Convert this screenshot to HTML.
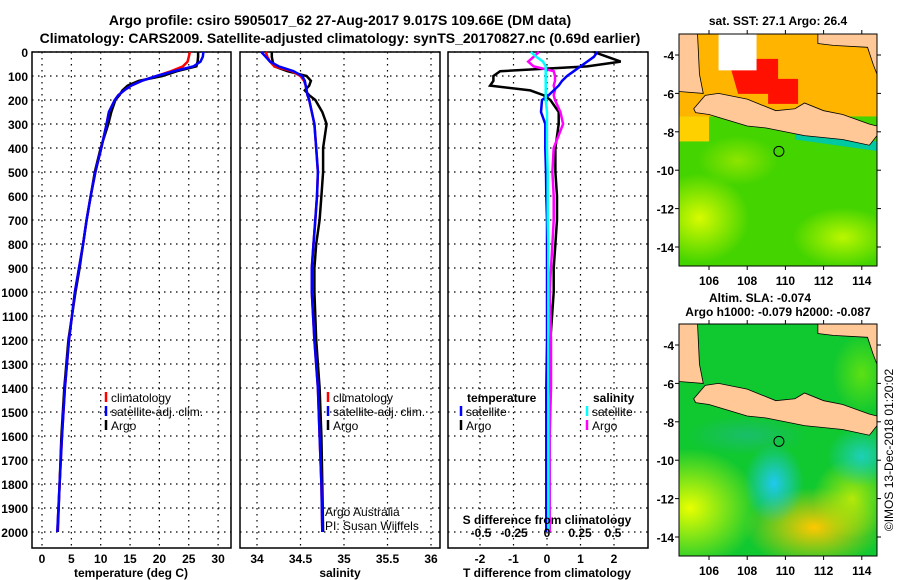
<!DOCTYPE html>
<html><head><meta charset="utf-8"><style>
body{margin:0;background:#fff;width:900px;height:580px;overflow:hidden}
svg{display:block;font-family:"Liberation Sans",sans-serif;font-weight:bold}
</style></head><body>
<svg id="c" width="900" height="580">
<text x="340" y="25" font-size="14" text-anchor="middle">Argo profile: csiro 5905017_62 27-Aug-2017 9.017S 109.66E (DM data)</text>
<text x="340" y="43" font-size="14" text-anchor="middle">Climatology: CARS2009. Satellite-adjusted climatology: synTS_20170827.nc (0.69d earlier)</text>
<g id="maps"></g>
<g id="plots"></g>
<text transform="translate(893,450) rotate(-90)" font-size="12" font-weight="normal" text-anchor="middle">©IMOS 13-Dec-2018 01:20:02</text>
</svg>
<script>
const depths=[0,20,40,60,80,100,120,140,160,180,200,250,300,400,500,600,700,800,900,1000,1200,1400,1600,1800,2000];
const tArgo=[26.6,26.6,26.5,26.3,23,20.5,16.5,14.6,13.7,13.2,12.5,11.8,11.3,10,9.0,8.3,7.6,7.0,6.4,5.7,4.5,3.8,3.3,3.0,2.7];
const tClim=[25.2,25.0,24.8,24,22,19.5,17,15.2,14,13,12.4,11.4,11.0,10.1,9.1,8.3,7.6,7.0,6.3,5.6,4.6,3.9,3.4,3.0,2.6];
const tSat=[27.5,27.4,27,25.8,22.5,19.5,17,15.2,14,13,12.4,11.4,11.0,10.1,9.1,8.3,7.6,7.0,6.3,5.6,4.6,3.9,3.4,3.0,2.6];
const sArgo=[34.17,34.17,34.18,34.2,34.35,34.57,34.62,34.6,34.55,34.6,34.67,34.75,34.8,34.76,34.76,34.74,34.72,34.68,34.66,34.66,34.68,34.72,34.74,34.75,34.76];
const sClim=[34.1,34.12,34.15,34.2,34.4,34.5,34.54,34.56,34.57,34.58,34.6,34.63,34.66,34.68,34.7,34.69,34.67,34.65,34.63,34.63,34.66,34.7,34.72,34.74,34.75];
const sSat=[34.05,34.1,34.15,34.25,34.42,34.52,34.55,34.56,34.57,34.58,34.6,34.63,34.66,34.68,34.7,34.69,34.67,34.65,34.63,34.63,34.66,34.7,34.72,34.74,34.75];
const dTArgo=[1.4,1.8,2.2,1.2,-1.4,-1.6,-1.6,-1.7,-0.5,-0.1,0.1,0.35,0.35,0.25,0.25,0.3,0.3,0.25,0.2,0.2,0.1,0.1,0.05,0.05,0.05];
const dTSat=[1.5,1.4,1.2,1.0,0.8,0.6,0.45,0.35,0.2,0.05,-0.15,-0.18,-0.05,-0.05,-0.03,-0.02,0,0,0,0,0,-0.02,-0.02,-0.02,-0.02];
const dSArgo=[-0.06,-0.1,-0.14,-0.1,0.05,0.06,0.06,0.05,0.06,0.05,0.06,0.1,0.12,0.05,0.04,0.05,0.05,0.04,0.03,0.02,0.03,0.03,0.02,0.02,0.02];
const dSSat=[-0.12,-0.08,-0.03,-0.01,-0.01,-0.01,-0.01,-0.01,-0.01,-0.01,-0.01,0,0,0,0.005,0.005,0.005,0.01,0.01,0.01,0.01,0.01,0.01,0.01,0.01];
const depthTicks=[0,100,200,300,400,500,600,700,800,900,1000,1100,1200,1300,1400,1500,1600,1700,1800,1900,2000];
const tTicks=[0,5,10,15,20,25,30];
const sTicks=[34,34.5,35,35.5,36];
const dTTicks=[-2,-1,0,1,2];
const dSTicks=[-0.5,-0.25,0,0.25,0.5];
const dSTickLabels=["-0.5","-0.25","0","0.25","0.5"];
const lonTicks=[106,108,110,112,114];
const latTicks=[-4,-6,-8,-10,-12,-14];

const NS='http://www.w3.org/2000/svg';
function mk(tag,attrs,parent,txt){const e=document.createElementNS(NS,tag);for(const k in attrs)e.setAttribute(k,attrs[k]);if(txt!==undefined)e.textContent=txt;parent.appendChild(e);return e;}
const plots=document.getElementById('plots');
const TOP=52,BOT=548;
const yD=d=>TOP+d*0.24;
const xT=t=>42+t*5.87;
const xS=s=>257+(s-34)*87;
const xDT=t=>547+t*33.5;
const xDS=s=>547+s*134;

function panel(x0,x1,name,gridX){
  const g=mk('g',{},plots);
  
  
  depthTicks.forEach(d=>{const l=mk('line',{x1:x0,x2:x1,y1:yD(d),y2:yD(d),stroke:'#000','stroke-width':1.2,'stroke-dasharray':'1.5 4.5'},g);
    });
  gridX.forEach(x=>{const l=mk('line',{x1:x,x2:x,y1:TOP,y2:BOT,stroke:'#000','stroke-width':1.2,'stroke-dasharray':'1.5 4.5'},g);
    });
  const r=mk('rect',{x:x0,y:TOP,width:x1-x0,height:BOT-TOP,fill:'none',stroke:'#000','stroke-width':1.5},g);
  
  return g;
}
function line(g,xs,xf,color,name,w){
  const pts=depths.map((d,i)=>xf(xs[i]).toFixed(1)+','+yD(d).toFixed(1)).join(' ');
  const p=mk('polyline',{points:pts,fill:'none',stroke:color,'stroke-width':w||2.5},g);
  
}
function txt(g,x,y,s,name,opts){const t=mk('text',Object.assign({x:x,y:y,'font-size':12},opts||{}),g,s);return t;}
function legend(g,x,y,items,name){
  items.forEach((it,i)=>{
    const yy=y+i*14;
    const l=mk('line',{x1:x,x2:x,y1:yy-10,y2:yy,stroke:it[1],'stroke-width':2.5},g);
    
    txt(g,x+5,yy,it[0],name+'-label',{'font-weight':'normal'});
  });
}

// depth tick labels
depthTicks.forEach(d=>txt(plots,28,yD(d)+5,String(d),'depth-tick-label',{'text-anchor':'end'}));

// panel 1 temperature
const g1=panel(32,231,'temperature-panel',tTicks.map(xT));
line(g1,tArgo,xT,'#000','argo-temperature-line');
line(g1,tClim,xT,'#f00','climatology-temperature-line');
line(g1,tSat,xT,'#00f','satellite-temperature-line');
tTicks.forEach(t=>txt(g1,xT(t),563,String(t),'temperature-tick-label',{'text-anchor':'middle'}));
txt(g1,131,577,'temperature (deg C)','temperature-axis-title',{'text-anchor':'middle'});
legend(g1,106,402,[['climatology','#f00'],['satellite-adj. clim.','#00f'],['Argo','#000']],'temperature-legend');

// panel 2 salinity
const g2=panel(240,440,'salinity-panel',sTicks.map(xS));
line(g2,sArgo,xS,'#000','argo-salinity-line');
line(g2,sClim,xS,'#f00','climatology-salinity-line');
line(g2,sSat,xS,'#00f','satellite-salinity-line');
sTicks.forEach(s=>txt(g2,xS(s),563,String(s),'salinity-tick-label',{'text-anchor':'middle'}));
txt(g2,340,577,'salinity','salinity-axis-title',{'text-anchor':'middle'});
legend(g2,328,402,[['climatology','#f00'],['satellite-adj. clim.','#00f'],['Argo','#000']],'salinity-legend');
txt(g2,325,516,'Argo Australia','argo-australia-credit',{'font-weight':'normal'});
txt(g2,325,530,'PI: Susan Wijffels','pi-credit',{'font-weight':'normal'});

// panel 3 differences
const g3=panel(448,648,'difference-panel',dTTicks.map(xDT));
line(g3,dTArgo,xDT,'#000','argo-t-difference-line');
line(g3,dSArgo,xDS,'#f0f','argo-s-difference-line');
line(g3,dTSat,xDT,'#00f','satellite-t-difference-line');
line(g3,dSSat,xDS,'#0ff','satellite-s-difference-line');
dTTicks.forEach(t=>txt(g3,xDT(t),563,String(t),'t-difference-tick-label',{'text-anchor':'middle'}));
txt(g3,547,577,'T difference from climatology','t-difference-axis-title',{'text-anchor':'middle'});
dSTicks.forEach((s,i)=>txt(g3,547+(i-2)*33,537,dSTickLabels[i],'s-difference-tick-label',{'text-anchor':'middle'}));
txt(g3,547,524,'S difference from climatology','s-difference-axis-title',{'text-anchor':'middle'});
txt(g3,467,402,'temperature','difference-legend-temperature-heading');
txt(g3,593,402,'salinity','difference-legend-salinity-heading');
legend(g3,461,416,[['satellite','#00f'],['Argo','#000']],'difference-legend-temperature');
legend(g3,587,416,[['satellite','#0ff'],['Argo','#f0f']],'difference-legend-salinity');

// maps
const maps=document.getElementById('maps');
function mapPanel(top,name,kind){
  const L=679,R=877,T=top,B=top+232;
  const lx=l=>709+(l-106)*19.1;
  const ly=la=>top+21+(-4-la)*19.2;
  const g=mk('g',{},maps);
  
  const defs=mk('defs',{},g);
  const cid='clip'+kind;
  const cp=mk('clipPath',{id:cid},defs);mk('rect',{x:L,y:T,width:R-L,height:B-T},cp);
  const c=mk('g',{'clip-path':'url(#'+cid+')'},g);
  function blob(cx,cy,rx,ry,col,op,id){
    const rg=mk('radialGradient',{id:id},defs);
    mk('stop',{offset:'0','stop-color':col,'stop-opacity':op},rg);
    mk('stop',{offset:'1','stop-color':col,'stop-opacity':0},rg);
    mk('ellipse',{cx:cx,cy:cy,rx:rx,ry:ry,fill:'url(#'+id+')'},c);
  }
  if(kind==='sst'){
    mk('rect',{x:L,y:T,width:R-L,height:B-T,fill:'#44d400'},c);
    blob(lx(105.5),ly(-12.5),50,45,'#e8ff00',0.9,'b1');
    blob(lx(113),ly(-13.5),50,30,'#d8ff00',0.8,'b2');
    blob(lx(107.5),ly(-9.5),40,25,'#c0f000',0.6,'b3');
    mk('rect',{x:L,y:T,width:R-L,height:ly(-7.2)-T,fill:'#ffb400'},c);
    mk('rect',{x:L,y:ly(-7.2),width:30,height:25,fill:'#ffd000'},c);
    mk('path',{d:`M${lx(107)} ${ly(-4.2)} h50 v20 h20 v25 h-30 v-10 h-30 z`,fill:'#ff1000'},c);
    mk('rect',{x:lx(106.5),y:T,width:38,height:ly(-4.8)-T,fill:'#fff'},c);
    mk('path',{d:`M${lx(110.5)} ${ly(-8.1)} L${R} ${ly(-8.5)} V${ly(-9)} L${lx(110.5)} ${ly(-8.4)} z`,fill:'#00c8a0'},c);
  } else {
    mk('rect',{x:L,y:T,width:R-L,height:B-T,fill:'#10c830'},c);
    blob(lx(105),ly(-12.5),70,60,'#e8ff00',1,'c1');
    blob(lx(111.5),ly(-13.5),70,40,'#ffc800',1,'c2');
    blob(lx(113.5),ly(-12),40,40,'#d8f000',0.8,'c3');
    blob(lx(109.4),ly(-11.2),30,40,'#20c8f0',1,'c4');
    blob(lx(114),ly(-9.8),35,30,'#20d0c8',0.9,'c5');
    blob(lx(108),ly(-8.7),60,20,'#20b890',0.6,'c6');
    blob(lx(114),ly(-5.5),30,40,'#90f000',0.6,'c7');
  }
  // land
  const land='#ffc896';
  mk('path',{d:`M${L} ${T} H${lx(105.4)} L${lx(105.5)} ${ly(-5)} L${lx(105.7)} ${ly(-6)} L${L} ${ly(-5.9)} Z`,fill:land,stroke:'#000','stroke-width':0.8},c);
  mk('path',{d:`M${lx(111.7)} ${T} H${R} V${ly(-5)} L${lx(114.6)} ${ly(-4.5)} L${lx(114.3)} ${ly(-3.6)} L${lx(112.5)} ${ly(-3.5)} L${lx(111.7)} ${ly(-3.4)} Z`,fill:land,stroke:'#000','stroke-width':0.8},c);
  mk('path',{d:`M${lx(105.2)} ${ly(-6.8)} L${lx(105.8)} ${ly(-6.1)} L${lx(106.5)} ${ly(-6.0)} L${lx(108)} ${ly(-6.3)} L${lx(108.5)} ${ly(-6.5)} L${lx(109.5)} ${ly(-6.9)} L${lx(110.5)} ${ly(-6.8)} L${lx(111)} ${ly(-6.5)} L${lx(112)} ${ly(-6.9)} L${lx(113)} ${ly(-7.1)} L${lx(114.4)} ${ly(-7.6)} L${R} ${ly(-7.7)} V${ly(-8.2)} L${lx(114.4)} ${ly(-8.7)} L${lx(113)} ${ly(-8.4)} L${lx(111)} ${ly(-8.2)} L${lx(109)} ${ly(-7.8)} L${lx(108)} ${ly(-7.7)} L${lx(107)} ${ly(-7.4)} L${lx(106)} ${ly(-7.1)} L${lx(105.3)} ${ly(-7.0)} Z`,fill:land,stroke:'#000','stroke-width':0.8},c);
  const circ=mk('circle',{cx:lx(109.66),cy:ly(-9.017),r:5,fill:'none',stroke:'#000','stroke-width':1},g);
  
  const fr=mk('rect',{x:L,y:T,width:R-L,height:B-T,fill:'none',stroke:'#000','stroke-width':1},g);
  
  lonTicks.forEach(l=>{mk('line',{x1:lx(l),x2:lx(l),y1:T,y2:T-4,stroke:'#000'},g);mk('line',{x1:lx(l),x2:lx(l),y1:B,y2:B+4,stroke:'#000'},g);
    txt(g,lx(l),B+19,String(l),'longitude-tick-label',{'text-anchor':'middle'});});
  latTicks.forEach(la=>{mk('line',{x1:L-4,x2:L,y1:ly(la),y2:ly(la),stroke:'#000'},g);mk('line',{x1:R,x2:R+4,y1:ly(la),y2:ly(la),stroke:'#000'},g);
    txt(g,L-5,ly(la)+5,String(la),'latitude-tick-label',{'text-anchor':'end'});});
}
mapPanel(34,'sst-map','sst');
mapPanel(324,'sla-map','sla');
txt(maps,778,25,'sat. SST: 27.1 Argo: 26.4','sst-map-title',{'text-anchor':'middle'});
txt(maps,760,302,'Altim. SLA: -0.074','sla-map-title',{'text-anchor':'middle'});
txt(maps,778,316,'Argo h1000: -0.079 h2000: -0.087','sla-map-subtitle',{'text-anchor':'middle'});
</script>
</body></html>
